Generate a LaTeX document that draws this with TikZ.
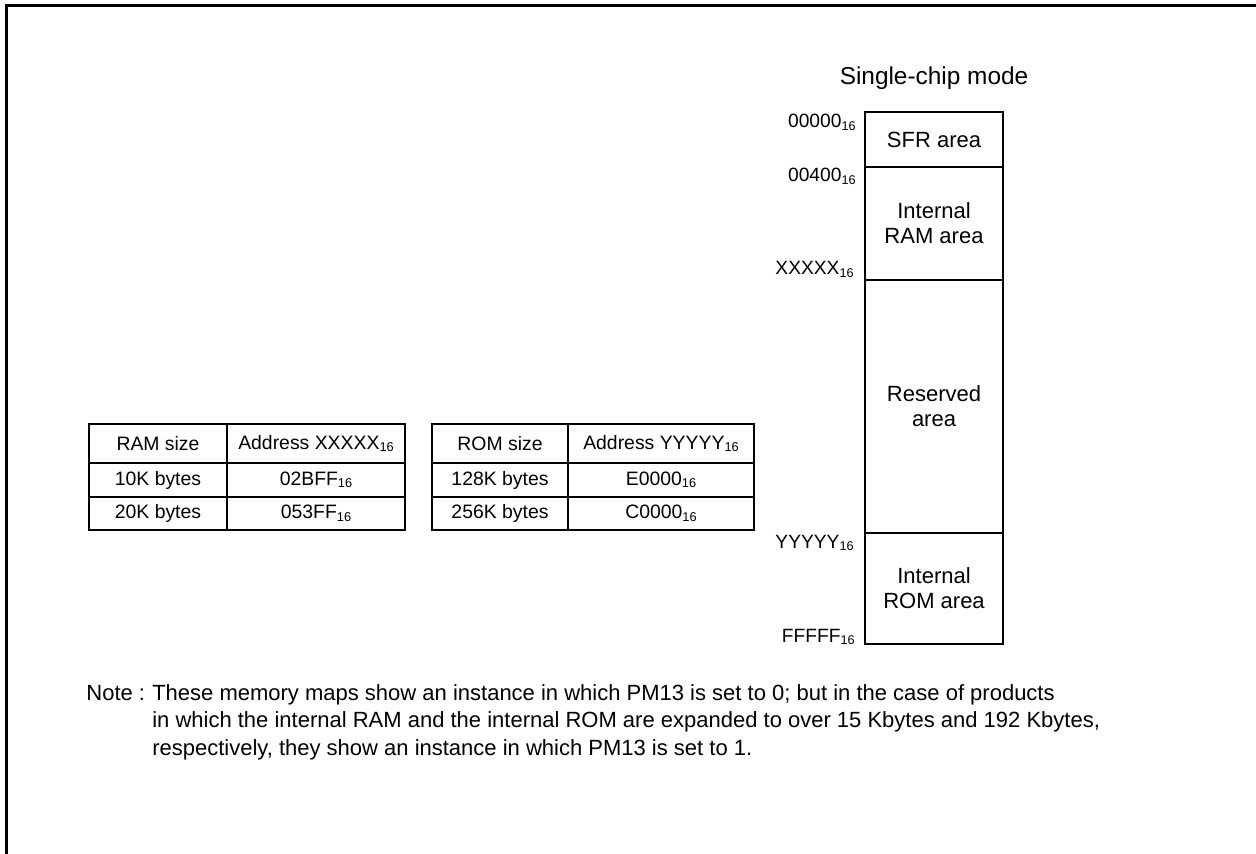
\documentclass[tikz,border=0pt]{standalone}
\usepackage{fontspec}
\setmainfont{Liberation Sans}
\usepackage{graphicx}
\usetikzlibrary{positioning}

% hexadecimal value with a small subscript 16
\newcommand{\hexval}[1]{#1\raisebox{-0.25ex}{\scalebox{0.66}{16}}}

\tikzset{
  area/.style={draw, line width=1pt, minimum width=69pt, outer sep=0pt, inner sep=0pt,
    align=center, font=\fontsize{11}{12.5}\selectfont},
  addr/.style={inner sep=0pt, font=\fontsize{9.6}{11}\selectfont},
  cell/.style={draw, line width=1pt, outer sep=0pt, inner sep=0pt,
    font=\fontsize{9.7}{11}\selectfont},
  notetext/.style={inner sep=0pt, anchor=base west, font=\fontsize{11}{13}\selectfont}
}

\begin{document}
\begin{tikzpicture}[x=0.5pt,y=-0.5pt]
        \useasboundingbox (0,0) rectangle (1256,854);

        % Frame (top and left edges only)
        \draw[line width=1.5pt] (6,854) -- (6,6) -- (1256,6);

        % Memory map, single-chip mode
        \node[area, minimum height=27.5pt, anchor=north west] (SFR) at (865,112) {SFR area};
        \node[area, minimum height=56.5pt, below=0pt of SFR] (RAM) {Internal\\RAM area};
        \node[area, minimum height=126.5pt, below=0pt of RAM] (RSV) {Reserved\\area};
        \node[area, minimum height=55.5pt, below=0pt of RSV] (ROM) {Internal\\ROM area};
        \node[anchor=base, inner sep=0pt, font=\fontsize{12.2}{14}\selectfont] (title)
          at ([yshift=13.5pt]SFR.north) {Single-chip mode};

        % Addresses at the region boundaries
        \node[addr, anchor=base east] (a0) at ([xshift=-4.5pt,yshift=-8pt]SFR.north west) {\hexval{00000}};
        \node[addr, anchor=base east] (a1) at ([xshift=-4.5pt,yshift=-7.5pt]RAM.north west) {\hexval{00400}};
        \node[addr, anchor=base east] (a2) at ([xshift=-5.5pt,yshift=2.5pt]RSV.north west) {\hexval{XXXXX}};
        \node[addr, anchor=base east] (a3) at ([xshift=-5.5pt,yshift=-7.5pt]ROM.north west) {\hexval{YYYYY}};
        \node[addr, anchor=base east] (a4) at ([xshift=-5pt,yshift=1pt]ROM.south west) {\hexval{FFFFF}};

        % RAM size table
        \node[cell, minimum width=69pt, minimum height=19.5pt, anchor=north west] (ta11) at (89,424) {RAM size};
        \node[cell, minimum width=89pt, minimum height=19.5pt, right=0pt of ta11] (ta12) {Address \hexval{XXXXX}};
        \node[cell, minimum width=69pt, minimum height=17pt, below=0pt of ta11] (ta21) {10K bytes};
        \node[cell, minimum width=89pt, minimum height=17pt, right=0pt of ta21] (ta22) {\hexval{02BFF}};
        \node[cell, minimum width=69pt, minimum height=16.5pt, below=0pt of ta21] (ta31) {20K bytes};
        \node[cell, minimum width=89pt, minimum height=16.5pt, right=0pt of ta31] (ta32) {\hexval{053FF}};

        % ROM size table
        \node[cell, minimum width=68pt, minimum height=19.5pt, anchor=north west] (tb11) at (432,424) {ROM size};
        \node[cell, minimum width=93pt, minimum height=19.5pt, right=0pt of tb11] (tb12) {Address \hexval{YYYYY}};
        \node[cell, minimum width=68pt, minimum height=17pt, below=0pt of tb11] (tb21) {128K bytes};
        \node[cell, minimum width=93pt, minimum height=17pt, right=0pt of tb21] (tb22) {\hexval{E0000}};
        \node[cell, minimum width=68pt, minimum height=16.5pt, below=0pt of tb21] (tb31) {256K bytes};
        \node[cell, minimum width=93pt, minimum height=16.5pt, right=0pt of tb31] (tb32) {\hexval{C0000}};

        % Note, hanging under its first word
        \node[notetext] (notehd) at (86,700) {Note :};
        \node[notetext] (note1) at ([xshift=3.2pt]notehd.base east) {These memory maps show an instance in which PM13 is set to 0; but in the case of products};
        \node[notetext] (note2) at ([yshift=-13.8pt]note1.base west) {in which the internal RAM and the internal ROM are expanded to over 15 Kbytes and 192 Kbytes,};
        \node[notetext] (note3) at ([yshift=-13.8pt]note2.base west) {respectively, they show an instance in which PM13 is set to 1.};
    \end{tikzpicture}
\end{document}
